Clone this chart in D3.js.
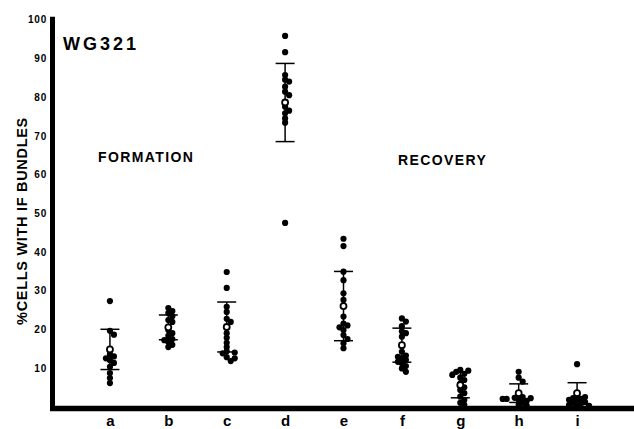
<!DOCTYPE html>
<html>
<head>
<meta charset="utf-8">
<script src="https://cdn.jsdelivr.net/npm/d3@7"></script>
<style>
  body { margin: 0; background: #fff; }
  text { font-family: "Liberation Sans", Arial, sans-serif; font-weight: bold; fill: #000; }
</style>
</head>
<body>
<script>
// DATA
var categories = ["a", "b", "c", "d", "e", "f", "g", "h", "i"];
var yTicks = [10, 20, 30, 40, 50, 60, 70, 80, 90, 100];

var valuesA = [27.3, 19.6, 18.6, 13.5, 13, 12.5, 12, 11.3, 10.3, 8.7, 7.4, 6.1];
var valuesB = [25.5, 24.7, 24.2, 23.4, 22.4, 21.9, 19.8, 19, 18.3, 17.5, 17.2, 16.7, 16, 15.4];
var valuesC = [34.8, 30.7, 25.8, 24.5, 22.7, 21.9, 19, 17.8, 16.5, 15.4, 14.3, 14, 13.8, 12.8, 12.5, 11.8];
var valuesD = [95.8, 91.6, 85.7, 84.5, 84, 82.7, 81.4, 80.5, 77.5, 76.5, 75.8, 74.5, 73.4, 47.5];
var valuesE = [43.4, 41.5, 34.9, 32.7, 29.3, 27.6, 23.3, 21.5, 21, 20.5, 19.8, 18.5, 17.5, 16.4, 15.1];
var valuesF = [22.8, 22, 20.8, 19.5, 19, 18.1, 14.2, 13.2, 12.9, 12.5, 12.1, 11.6, 11.2, 10.5, 9.9, 9];
var valuesG = [9.5, 9.3, 9, 8.5, 8.2, 7.5, 6.9, 6, 5, 4.3, 3.5, 2.6, 1.7, 1, 0.5];
var valuesH = [9, 7.5, 6.5, 3, 2.5, 2.3, 2.2, 2, 2, 1.8, 1.5, 1, 0.5, 0.3];
var valuesI = [11, 2.8, 2.5, 2.2, 2, 1.8, 1.5, 1.2, 1, 0.8, 0.5, 0.3, 0.2];

var meanValues = [14.8, 20.5, 20.6, 78.6, 26, 15.9, 5.6, 3.5, 3.5];
var sdValues = [5.2, 3.2, 6.45, 10.1, 8.95, 4.4, 3.3, 2.4, 2.7];

var allValues = [valuesA, valuesB, valuesC, valuesD, valuesE, valuesF, valuesG, valuesH, valuesI];

//GENERAL VARIABLES
var width = 634,
    height = 429;

var svg = d3.select("body").append("svg")
    .attr("width", width)
    .attr("height", height);

var x = d3.scalePoint()
    .domain(categories)
    .range([53, 634])
    .padding(0.975);

var y = d3.scaleLinear()
    .domain([0, 100])
    .range([406.7, 19.7]);

// axis lines (thick, as in the scan)
svg.append("line")
    .attr("x1", 52.5).attr("x2", 52.5)
    .attr("y1", y(100) - 3).attr("y2", 411)
    .attr("stroke", "black").attr("stroke-width", 5);
svg.append("line")
    .attr("x1", 50).attr("x2", width)
    .attr("y1", 408.5).attr("y2", 408.5)
    .attr("stroke", "black").attr("stroke-width", 5.5);

// y ticks
var yAxis = d3.axisLeft(y)
    .tickValues(yTicks)
    .tickSize(0)
    .tickPadding(3);
var gy = svg.append("g")
    .attr("transform", "translate(50,0)")
    .call(yAxis);
gy.select(".domain").remove();
gy.selectAll("text")
    .style("font-size", "10px")
    .style("letter-spacing", "0.8px")
    .style("font-family", "'Liberation Sans', Arial, sans-serif")
    .style("font-weight", "bold");

// x labels
var gx = svg.append("g")
    .attr("transform", "translate(0,411)")
    .call(d3.axisBottom(x).tickSize(0).tickPadding(4));
gx.select(".domain").remove();
gx.selectAll("text")
    .style("font-size", "15px")
    .style("font-family", "'Liberation Sans', Arial, sans-serif")
    .style("font-weight", "bold");

// y title
svg.append("text")
    .attr("transform", "translate(27,221) rotate(-90)")
    .attr("text-anchor", "middle")
    .style("font-size", "14.5px")
    .style("letter-spacing", "0.7px")
    .text("%CELLS WITH IF BUNDLES");

svg.append("text")
    .attr("x", 63).attr("y", 50)
    .style("font-size", "18px")
    .style("letter-spacing", "3px")
    .text("WG321");

svg.append("text")
    .attr("x", 98).attr("y", 162)
    .style("font-size", "14px")
    .style("letter-spacing", "1.4px")
    .text("FORMATION");

svg.append("text")
    .attr("x", 398).attr("y", 165)
    .style("font-size", "14px")
    .style("letter-spacing", "1.4px")
    .text("RECOVERY");

// dodge points that sit on top of each other
function placePoints(vals, cx) {
    var placed = [];
    var offsets = [0, 4, -4, 8, -8, 12, -12, 16, -16];
    vals.slice().sort(function(a, b) { return b - a; }).forEach(function(v) {
        var py = y(v);
        for (var k = 0; k < offsets.length; k++) {
            var px = cx + offsets[k];
            var ok = placed.every(function(p) {
                return Math.hypot(p.x - px, p.y - py) >= 4.2;
            });
            if (ok || k == offsets.length - 1) { placed.push({x: px, y: py}); break; }
        }
    });
    return placed;
}

categories.forEach(function(c, i) {
    var cx = x(c);
    var g = svg.append("g").attr("class", "group-" + c);

    var pts = placePoints(allValues[i], cx);
    g.selectAll(".dot")
        .data(pts)
        .enter().append("circle")
        .attr("class", "dot")
        .attr("cx", function(d) { return d.x; })
        .attr("cy", function(d) { return d.y; })
        .attr("r", 3.1)
        .attr("fill", "black");

    var top = y(meanValues[i] + sdValues[i]),
        bot = y(Math.max(0, meanValues[i] - sdValues[i]));
    g.append("line")
        .attr("x1", cx).attr("x2", cx)
        .attr("y1", top).attr("y2", bot)
        .attr("stroke", "black").attr("stroke-width", 1.5);
    [top, bot].forEach(function(yy) {
        g.append("line")
            .attr("x1", cx - 9.5).attr("x2", cx + 9.5)
            .attr("y1", yy).attr("y2", yy)
            .attr("stroke", "black").attr("stroke-width", 1.5);
    });

    g.append("circle")
        .attr("cx", cx)
        .attr("cy", y(meanValues[i]))
        .attr("r", 3)
        .attr("fill", "white")
        .attr("stroke", "black")
        .attr("stroke-width", 1.8);
});
</script>
</body>
</html>
